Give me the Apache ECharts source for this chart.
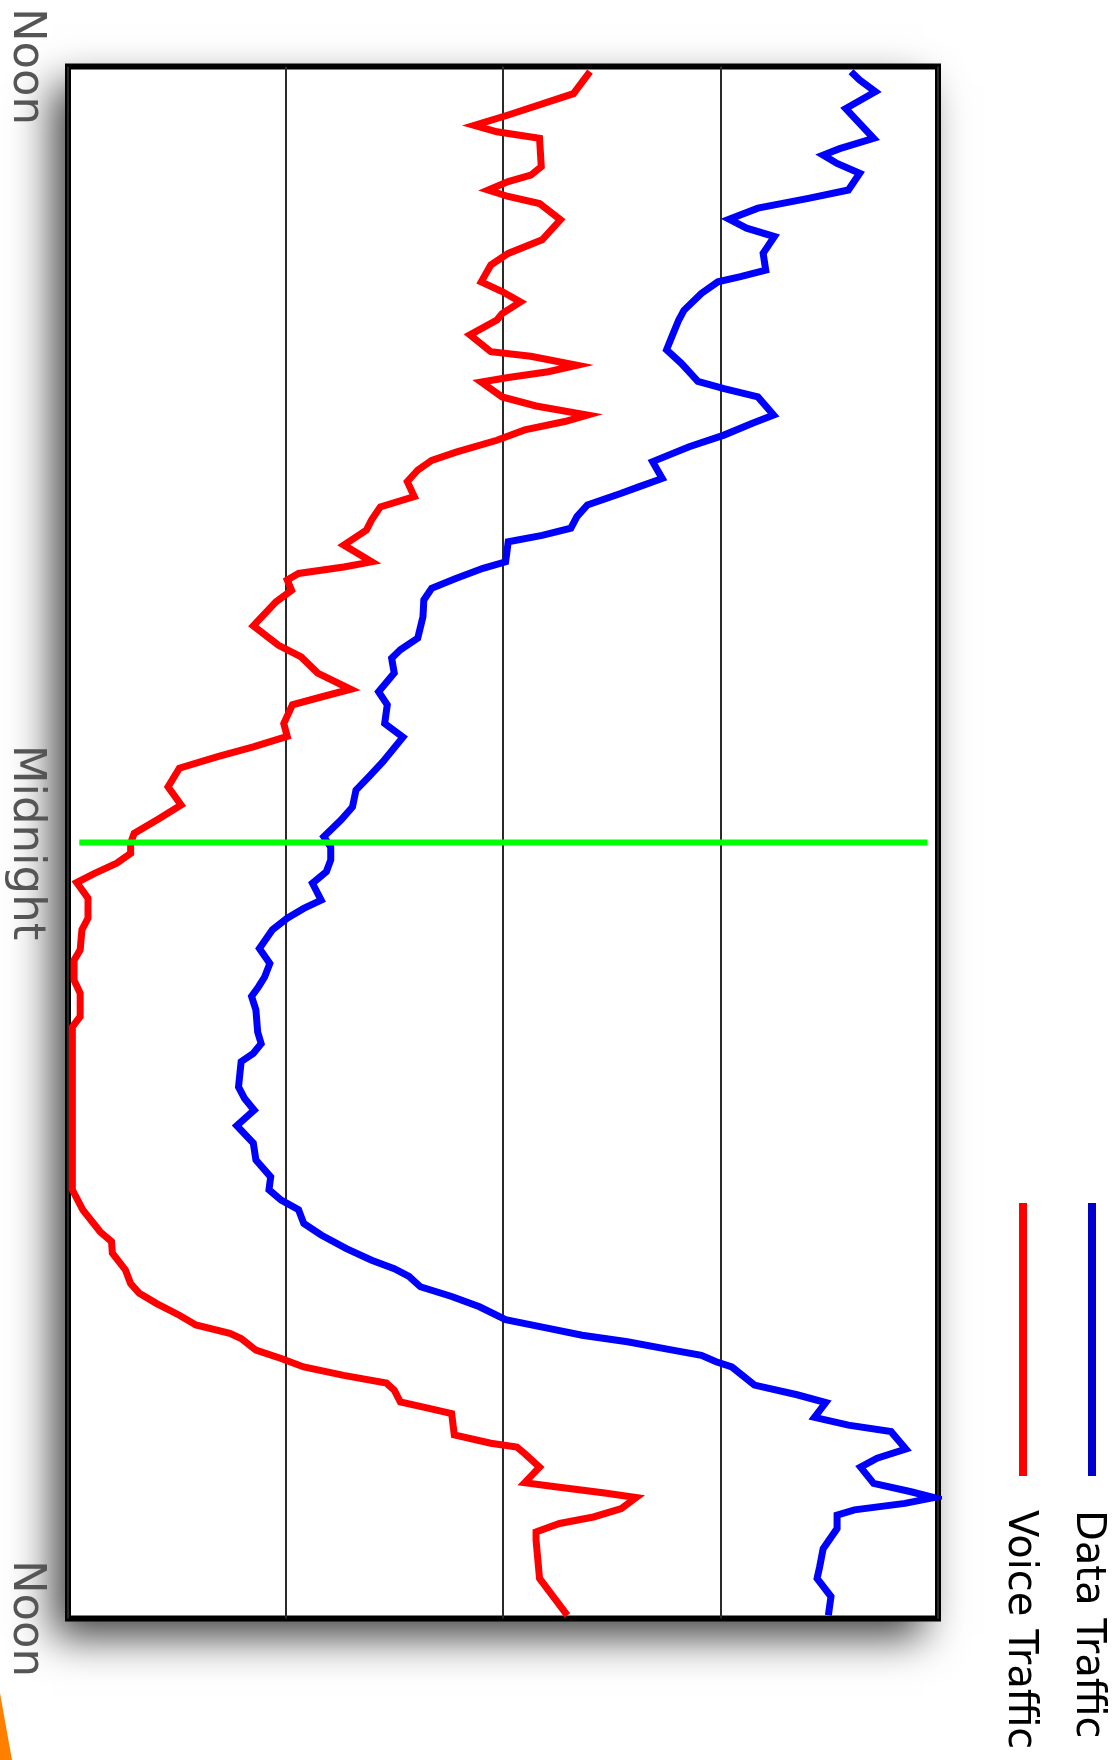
<!DOCTYPE html>
<html>
<head>
<meta charset="utf-8">
<script src="https://cdn.jsdelivr.net/npm/echarts@6/dist/echarts.min.js"></script>
<style>
html,body{margin:0;padding:0;background:#fff;}
#chart{width:1118px;height:1760px;}
</style>
</head>
<body>
<div id="chart"></div>
<script>
// Time axis (hours after noon) ticks and labels
const timeTickHours = [0, 12, 24];
const timeTickLabels = ['Noon', 'Midnight', 'Noon'];

// Voice traffic (red): hours after noon and relative load (0-100)
const voiceHours = [0.08,0.42,0.75,0.91,1.01,1.11,1.55,1.68,1.78,1.91,2.01,2.12,2.37,2.68,2.89,3.07,3.33,3.48,3.64,3.82,3.92,4.15,4.41,4.48,4.62,4.72,4.81,4.88,5.11,5.25,5.39,5.49,5.62,5.78,5.96,6.09,6.24,6.42,6.65,6.81,7.01,7.17,7.40,7.66,7.74,7.84,7.94,8.10,8.28,8.65,8.95,9.13,9.38,9.63,9.75,9.87,10.16,10.36,10.52,10.67,10.85,11.14,11.42,11.63,11.86,12.01,12.17,12.32,12.48,12.62,12.86,13.17,13.35,13.66,13.82,14.13,14.33,14.69,14.85,17.37,17.68,18.02,18.17,18.35,18.61,18.82,18.97,19.13,19.31,19.46,19.59,19.67,19.85,19.98,20.11,20.24,20.36,20.47,20.65,20.75,20.83,21.16,21.29,21.35,21.45,21.66,21.90,21.96,22.06,22.13,22.30,22.43,22.53,22.66,22.79,23.38,23.95];
const voiceTraffic = [60.0,58.1,50.6,46.7,49.3,54.2,54.4,53.2,50.6,48.3,50.6,54.2,56.6,54.5,50.6,48.6,47.5,49.9,52.0,49.9,49.3,46.2,48.6,53.2,58.5,55.2,50.6,47.5,49.9,53.8,59.7,57.1,52.5,49.3,44.7,41.8,40.2,39.0,39.8,35.9,34.9,34.3,31.7,34.9,31.7,26.5,25.2,25.7,23.9,21.3,24.2,26.8,28.7,32.5,29.1,25.8,24.8,25.2,21.3,17.3,12.8,11.5,13.0,10.5,7.6,7.2,7.2,5.6,3.0,1.0,2.3,2.3,1.6,1.4,0.7,0.7,1.4,1.4,0.5,0.5,1.7,3.7,5.0,5.1,6.6,7.2,8.2,10.2,12.8,14.7,18.6,19.9,21.6,24.5,27.1,31.7,36.6,37.5,38.2,41.5,44.1,44.4,48.6,51.6,52.5,54.2,52.5,55.8,61.7,65.3,63.6,60.4,56.5,53.8,53.8,54.2,57.4];

// Data traffic (blue): hours after noon and relative load (0-100)
const dataHours = [0.08,0.21,0.39,0.65,1.11,1.27,1.37,1.50,1.65,1.91,2.04,2.19,2.36,2.50,2.63,2.89,3.15,3.25,3.33,3.51,3.77,3.92,4.18,4.38,4.59,4.87,4.98,5.11,5.39,5.52,5.70,5.88,6.11,6.37,6.50,6.60,6.78,6.96,7.14,7.25,7.35,7.66,7.76,7.92,8.07,8.25,8.51,8.84,9.02,9.15,9.38,9.67,9.87,10.16,10.37,10.75,10.98,11.19,11.45,11.65,11.91,12.07,12.27,12.45,12.63,12.89,13.02,13.17,13.35,13.64,13.87,14.08,14.23,14.38,14.59,14.93,15.11,15.26,15.39,15.78,15.96,16.14,16.38,16.65,16.91,17.17,17.37,17.53,17.68,17.89,18.07,18.28,18.46,18.59,18.71,18.87,19.02,19.18,19.38,19.51,19.62,19.72,19.85,19.93,20.03,20.11,20.39,20.54,20.66,20.89,21.01,21.11,21.38,21.52,21.66,21.91,22.04,22.13,22.22,22.32,22.40,22.61,22.92,23.20,23.38,23.66,23.95];
const dataTraffic = [90.0,91.0,92.8,89.4,92.6,88.7,86.8,88.4,91.0,89.7,85.1,79.3,76.0,78.0,81.2,79.9,80.2,77.3,74.7,72.8,70.8,70.2,69.4,68.8,70.5,72.4,75.4,79.3,81.1,78.6,75.4,71.4,67.2,68.3,65.6,63.6,59.7,58.5,57.8,54.5,50.6,50.3,47.7,44.5,41.8,40.9,40.8,40.2,38.2,37.2,37.5,35.7,36.7,36.4,38.5,36.2,34.6,33.1,32.7,31.4,29.4,30.2,30.2,29.7,28.1,29.1,27.1,25.2,23.5,22.0,23.2,22.6,21.9,21.1,21.6,21.8,22.2,21.3,19.9,19.6,20.3,21.4,19.4,21.3,21.6,23.3,23.1,24.5,26.5,27.1,29.1,32.0,34.9,37.5,39.2,40.5,44.1,47.3,50.3,55.1,59.1,64.3,69.5,72.8,74.5,76.3,78.9,83.8,87.1,85.8,89.7,94.6,96.3,93.0,91.1,92.6,96.9,99.5,96.2,90.4,88.4,88.4,86.8,86.4,86.1,87.7,87.4];

// Midnight marker (green): hour and value extent
const markerHour = 12;
const markerRange = [1.3, 98.8];

const zip = (vals, hrs) => vals.map((v, i) => [v, hrs[i]]);

const G = {left: 68, top: 66.5, right: 180, bottom: 141.5, W: 1118, H: 1760};

const chart = echarts.init(document.getElementById('chart'), null, {renderer: 'canvas'});
chart.setOption({
  animation: false,
  backgroundColor: '#ffffff',
  grid: {
    show: true,
    left: G.left, top: G.top, right: G.right, bottom: G.bottom,
    backgroundColor: '#ffffff',
    borderColor: '#000000',
    borderWidth: 6,
    containLabel: false,
    outerBoundsMode: 'none'
  },
  xAxis: {
    type: 'value', min: 0, max: 100, interval: 25,
    axisLine: {show: false}, axisTick: {show: false}, axisLabel: {show: false},
    splitLine: {show: true, lineStyle: {color: '#2a2a2a', width: 2}}
  },
  yAxis: {
    type: 'value', min: 0, max: 24, interval: 12, inverse: true,
    axisLine: {show: false}, axisTick: {show: false},
    splitLine: {show: false},
    axisLabel: {
      show: true, rotate: -90, margin: 20,
      color: '#555555', fontFamily: 'DejaVu Sans', fontSize: 45,
      formatter: v => timeTickLabels[timeTickHours.indexOf(v)]
    }
  },
  series: [
    {
      name: 'Voice Traffic', type: 'line', data: zip(voiceTraffic, voiceHours),
      symbol: 'none', smooth: false,
      lineStyle: {color: '#ff0000', width: 7, join: 'miter', cap: 'butt'}
    },
    {
      name: 'Data Traffic', type: 'line', data: zip(dataTraffic, dataHours),
      symbol: 'none', smooth: false,
      lineStyle: {color: '#0000ff', width: 7, join: 'miter', cap: 'butt'}
    },
    {
      name: 'Midnight', type: 'line',
      data: markerRange.map(v => [v, markerHour]),
      symbol: 'none',
      lineStyle: {color: '#00ff00', width: 6, cap: 'butt'}
    }
  ],
  graphic: [
    {type: 'rect', z: -10, silent: true,
      shape: {x: G.left, y: G.top, width: G.W - G.left - G.right, height: G.H - G.top - G.bottom},
      style: {fill: '#ffffff', shadowColor: 'rgba(0,0,0,0.75)', shadowBlur: 40, shadowOffsetX: -15, shadowOffsetY: 18}},
    {type: 'line', shape: {x1: 1092, y1: 1203, x2: 1092, y2: 1476}, style: {stroke: '#0000cc', lineWidth: 8}},
    {type: 'line', shape: {x1: 1023, y1: 1203, x2: 1023, y2: 1476}, style: {stroke: '#ff0000', lineWidth: 8}},
    {type: 'text', x: 1087, y: 1510, rotation: -Math.PI / 2,
      style: {text: 'Data Traffic', fill: '#000000', fontFamily: 'DejaVu Sans', fontSize: 40,
        align: 'left', verticalAlign: 'middle', textAlign: 'left', textVerticalAlign: 'middle'}},
    {type: 'text', x: 1019, y: 1510, rotation: -Math.PI / 2,
      style: {text: 'Voice Traffic', fill: '#000000', fontFamily: 'DejaVu Sans', fontSize: 40,
        align: 'left', verticalAlign: 'middle', textAlign: 'left', textVerticalAlign: 'middle'}},
    {type: 'polygon', shape: {points: [[0, 1693], [12, 1760], [0, 1760]]}, style: {fill: '#ff8000'}, z: 100}
  ]
});
</script>
</body>
</html>
